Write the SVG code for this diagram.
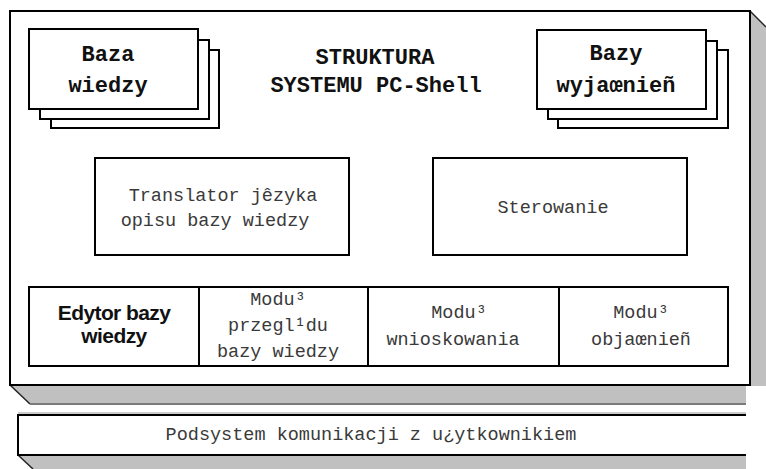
<svg xmlns="http://www.w3.org/2000/svg" width="766" height="469" viewBox="0 0 766 469">
<style>
.box{fill:#fff;stroke:#000;stroke-width:2}
.shade{fill:#c0c0c0;stroke:none}
.edge{stroke:#222;stroke-width:1.5;fill:none}
.tb{font-family:"Liberation Mono","Courier New",monospace;font-weight:bold;font-size:22px;fill:#111;text-anchor:middle}
.tr{font-family:"Liberation Mono","Courier New",monospace;font-size:18.5px;fill:#3a3a3a;text-anchor:middle}
.ts{font-family:"Liberation Sans",Arial,sans-serif;font-weight:bold;font-size:21px;fill:#111;text-anchor:middle;letter-spacing:-0.6px}
</style>
<rect width="766" height="469" fill="#fff"/>
<g id="system">
  <polygon class="shade" points="750,11 766,27 766,386 750,386"/>
  <line class="edge" x1="750" y1="11" x2="766" y2="27"/>
  <polygon class="shade" points="10,385 30,404 746,404 746,385"/>
  <line class="edge" x1="10" y1="385" x2="30" y2="404"/>
  <line x1="30" y1="404" x2="746" y2="404" stroke="#7a7a7a" stroke-width="2"/>
  <rect class="box" x="10" y="11" width="740" height="374"/>
  <text class="tb" x="375" y="64">STRUKTURA</text>
  <text class="tb" x="376" y="92">SYSTEMU PC-Shell</text>
</g>
<g id="baza-wiedzy">
  <rect class="box" x="51" y="50" width="168" height="78"/>
  <rect class="box" x="40" y="40" width="169" height="79"/>
  <rect class="box" x="29" y="29" width="169" height="80"/>
  <text class="tb" x="108" y="61">Baza</text>
  <text class="tb" x="108" y="92">wiedzy</text>
</g>
<g id="bazy-wyjasnien">
  <rect class="box" x="558" y="50" width="170" height="78"/>
  <rect class="box" x="548" y="41" width="169" height="78"/>
  <rect class="box" x="537" y="30" width="169" height="79"/>
  <text class="tb" x="616" y="60">Bazy</text>
  <text class="tb" x="616" y="92">wyjaœnieñ</text>
</g>
<g id="translator">
  <rect class="box" x="95" y="158" width="254" height="97"/>
  <text class="tr" x="223" y="201">Translator jêzyka</text>
  <text class="tr" x="215" y="226">opisu bazy wiedzy</text>
</g>
<g id="sterowanie">
  <rect class="box" x="433" y="158" width="254" height="97"/>
  <text class="tr" x="553" y="213">Sterowanie</text>
</g>
<g id="edytor">
  <rect class="box" x="29" y="287" width="170" height="79"/>
  <text class="ts" x="114" y="320">Edytor bazy</text>
  <text class="ts" x="114" y="343">wiedzy</text>
</g>
<g id="modul-przegladu">
  <rect class="box" x="199" y="287" width="169" height="79"/>
  <text class="tr" x="278" y="305">Modu³</text>
  <text class="tr" x="278" y="331">przegl¹du</text>
  <text class="tr" x="278" y="357">bazy wiedzy</text>
</g>
<g id="modul-wnioskowania">
  <rect class="box" x="368" y="287" width="191" height="79"/>
  <text class="tr" x="459" y="318">Modu³</text>
  <text class="tr" x="453" y="345">wnioskowania</text>
</g>
<g id="modul-objasnien">
  <rect class="box" x="559" y="287" width="169" height="79"/>
  <text class="tr" x="641" y="318">Modu³</text>
  <text class="tr" x="641" y="345">objaœnieñ</text>
</g>
<g id="podsystem">
  <polygon class="shade" points="18,455 33,469 746,469 746,455"/>
  <line class="edge" x1="18" y1="455" x2="33" y2="469"/>
  <line x1="18" y1="413" x2="746" y2="413" stroke="#999" stroke-width="1"/>
  <rect x="18" y="415" width="728" height="40" fill="#fff"/>
  <path d="M746,415 H18 V455 H746" fill="none" stroke="#000" stroke-width="2"/>
  <text class="tr" x="371" y="440">Podsystem komunikacji z u¿ytkownikiem</text>
</g>
<g id="connectors"></g>
</svg>
